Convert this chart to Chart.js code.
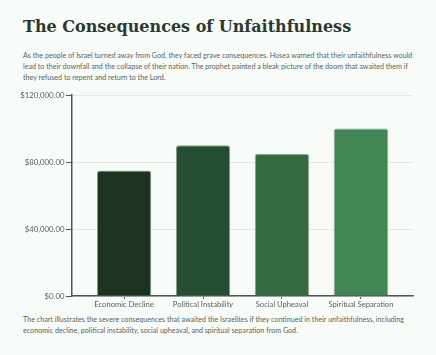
<!DOCTYPE html>
<html><head><meta charset="utf-8">
<script src="https://cdn.jsdelivr.net/npm/chart.js@4"></script>
<style>
html,body{margin:0;padding:0;background:#f8fcf9;}
body{width:436px;height:355px;position:relative;overflow:hidden;font-family:Lato,sans-serif;}
h1{position:absolute;left:23px;top:17px;margin:0;font-weight:bold;font-size:16px;font-family:"DejaVu Serif",serif;color:#2b3832;white-space:nowrap;line-height:20px;}
.desc{position:absolute;left:23px;top:50px;width:410px;margin:0;font-size:7.15px;line-height:11px;color:#59625d;white-space:nowrap;}
.foot{position:absolute;left:23px;top:315px;width:410px;margin:0;font-size:7.15px;line-height:10.7px;color:#59625d;white-space:nowrap;}
#wrap{position:absolute;left:0;top:85px;width:436px;height:230px;}
</style></head>
<body>
<h1>The Consequences of Unfaithfulness</h1>
<p class="desc">As the people of Israel turned away from God, they faced grave consequences. Hosea warned that their unfaithfulness would<br>lead to their downfall and the collapse of their nation. The prophet painted a bleak picture of the doom that awaited them if<br>they refused to repent and return to the Lord.</p>
<div id="wrap"><canvas id="c"></canvas></div>
<p class="foot">The chart illustrates the severe consequences that awaited the Israelites if they continued in their unfaithfulness, including<br>economic decline, political instability, social upheaval, and spiritual separation from God.</p>
<script>
const categories = ['Economic Decline', 'Political Instability', 'Social Upheaval', 'Spiritual Separation'];
const values = [75000, 90000, 85000, 100000];
const barColors = ['#1b3320', '#264e33', '#356b40', '#428753'];
const yTicks = [0, 40000, 80000, 120000];

class PaddedCategory extends Chart.CategoryScale {
  buildTicks() {
    const t = super.buildTicks();
    this._startValue -= 0.16;
    this._valueRange += 0.32;
    return t;
  }
}
PaddedCategory.id = 'paddedCategory';
PaddedCategory.defaults = Chart.CategoryScale.defaults;
Chart.register(PaddedCategory);

const fmt = v => '$' + v.toLocaleString('en-US', {minimumFractionDigits: 2, maximumFractionDigits: 2});

new Chart(document.getElementById('c'), {
  type: 'bar',
  data: {
    labels: categories,
    datasets: [{
      data: values,
      backgroundColor: barColors,
      borderColor: 'rgba(30,45,35,0.45)',
      borderWidth: 1,
      borderRadius: 3,
      categoryPercentage: 0.69,
      barPercentage: 1
    }]
  },
  options: {
    responsive: true,
    maintainAspectRatio: false,
    animation: false,
    layout: {padding: {left: 0, right: 23, top: 10, bottom: 0}},
    plugins: {legend: {display: false}, tooltip: {enabled: false}},
    scales: {
      x: {
        type: 'paddedCategory',
        offset: true,
        grid: {display: true, drawOnChartArea: false, drawTicks: true, tickLength: 3, offset: false, color: '#4a5a52', lineWidth: 1},
        border: {display: true, color: '#4a5a52', width: 1.5},
        ticks: {color: '#59625d', font: {family: 'Lato', size: 7.6}, padding: 1, maxRotation: 0, autoSkip: false},
        afterFit: s => { s.height = 19; }
      },
      y: {
        min: 0, max: 120000,
        afterBuildTicks: s => { s.ticks = yTicks.map(v => ({value: v})); },
        grid: {color: '#e3eae5', lineWidth: 1, tickLength: 6, tickColor: '#4a5a52'},
        border: {display: true, color: '#4a5a52', width: 1.5},
        ticks: {color: '#59625d', font: {family: 'Lato', size: 7.8}, padding: 1.5, callback: v => fmt(v)},
        afterFit: s => { s.width = 72; }
      }
    }
  }
});
</script>
</body></html>
